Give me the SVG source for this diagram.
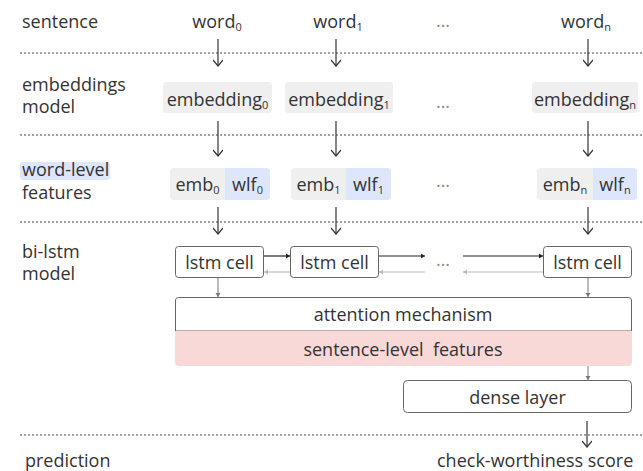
<svg xmlns="http://www.w3.org/2000/svg" width="643" height="471" viewBox="0 0 643 471">
<style>
text{font-family:"Open Sans","Noto Sans","Liberation Sans",sans-serif;font-size:18px;fill:#333;}
.c{text-anchor:middle;}
.dots{fill:#888;}
.sub{font-size:11px;}
.sep{stroke:#444;stroke-width:1.2;stroke-dasharray:2 2;fill:none;}
.gray{fill:#efefef;}
.blue{fill:#dde6fa;}
.box{fill:#fff;stroke:#666;stroke-width:1;}
.arr{stroke:#333;stroke-width:1.2;fill:none;marker-end:url(#ah);}
.fw{stroke:#222;stroke-width:1.2;fill:none;marker-end:url(#as);}
.bk{stroke:#bbb;stroke-width:1.2;fill:none;marker-end:url(#asg);}
.dn{stroke:#777;stroke-width:1;fill:none;marker-end:url(#asd);}
</style>
<defs>
<marker id="ah" viewBox="-7 -5 8 10" refX="0" refY="0" markerWidth="8" markerHeight="10" markerUnits="userSpaceOnUse" orient="auto"><path d="M-6,-5 L0,0 L-6,5" fill="none" stroke="#333" stroke-width="1.2"/></marker>
<marker id="as" viewBox="-5 -3 6 6" refX="0" refY="0" markerWidth="6" markerHeight="6" markerUnits="userSpaceOnUse" orient="auto"><path d="M-4,-2.5 L0,0 L-4,2.5 Z" fill="#222"/></marker>
<marker id="asg" viewBox="-5 -3 6 6" refX="0" refY="0" markerWidth="6" markerHeight="6" markerUnits="userSpaceOnUse" orient="auto"><path d="M-4,-2.5 L0,0 L-4,2.5 Z" fill="#bbb"/></marker>
<marker id="asd" viewBox="-5 -3 6 6" refX="0" refY="0" markerWidth="6" markerHeight="6" markerUnits="userSpaceOnUse" orient="auto"><path d="M-4,-2.5 L0,0 L-4,2.5 Z" fill="#777"/></marker>
</defs>

<g id="separators">
<line class="sep" x1="20" y1="53" x2="643" y2="53"/>
<line class="sep" x1="20" y1="135" x2="643" y2="135"/>
<line class="sep" x1="20" y1="222" x2="643" y2="222"/>
<line class="sep" x1="20" y1="435" x2="643" y2="435"/>
</g>

<g id="row-labels">
<text x="22" y="28">sentence</text>
<text x="22" y="91">embeddings</text>
<text x="22" y="113">model</text>
<rect x="20" y="162" width="90" height="18" rx="3" class="blue"/>
<text x="22" y="176">word-level</text>
<text x="22" y="199">features</text>
<text x="22" y="258">bi-lstm</text>
<text x="22" y="280">model</text>
<text x="25" y="467">prediction</text>
</g>

<g id="words">
<text class="c" x="217" y="28">word<tspan class="sub" dy="3">0</tspan></text>
<text class="c" x="338" y="28">word<tspan class="sub" dy="3">1</tspan></text>
<text class="c dots" x="443" y="27">...</text>
<text class="c" x="586" y="28">word<tspan class="sub" dy="3">n</tspan></text>
</g>

<g id="embedding0"><rect class="gray" x="163" y="82" width="109" height="31" rx="3"/><text class="c" x="217.5" y="106">embedding<tspan class="sub" dy="3">0</tspan></text></g>
<g id="embedding1"><rect class="gray" x="285" y="82" width="108" height="31" rx="3"/><text class="c" x="339" y="106">embedding<tspan class="sub" dy="3">1</tspan></text></g>
<text class="c dots" x="443" y="108">...</text>
<g id="embeddingn"><rect class="gray" x="532" y="82" width="106" height="31" rx="3"/><text class="c" x="585" y="106">embedding<tspan class="sub" dy="3">n</tspan></text></g>

<g id="feat0"><rect class="gray" x="170" y="168" width="100" height="32" rx="4"/><path class="blue" d="M225,168 H266 A4,4 0 0 1 270,172 V196 A4,4 0 0 1 266,200 H225 Z"/><text class="c" x="197.5" y="191">emb<tspan class="sub" dy="3">0</tspan></text><text class="c" x="247.5" y="191">wlf<tspan class="sub" dy="3">0</tspan></text></g>
<g id="feat1"><rect class="gray" x="291" y="168" width="100" height="32" rx="4"/><path class="blue" d="M346,168 H387 A4,4 0 0 1 391,172 V196 A4,4 0 0 1 387,200 H346 Z"/><text class="c" x="318.5" y="191">emb<tspan class="sub" dy="3">1</tspan></text><text class="c" x="368.5" y="191">wlf<tspan class="sub" dy="3">1</tspan></text></g>
<text class="c dots" x="443" y="187">...</text>
<g id="featn"><rect class="gray" x="537" y="168" width="100" height="32" rx="4"/><path class="blue" d="M593,168 H633 A4,4 0 0 1 637,172 V196 A4,4 0 0 1 633,200 H593 Z"/><text class="c" x="565" y="191">emb<tspan class="sub" dy="3">n</tspan></text><text class="c" x="615" y="191">wlf<tspan class="sub" dy="3">n</tspan></text></g>

<g id="lstm0"><rect class="box" x="175.5" y="246.5" width="88" height="31" rx="3"/><text class="c" x="219.5" y="269">lstm cell</text></g>
<g id="lstm1"><rect class="box" x="290.5" y="246.5" width="88" height="31" rx="3"/><text class="c" x="334.5" y="269">lstm cell</text></g>
<text class="c dots" x="443" y="266">...</text>
<g id="lstmn"><rect class="box" x="543.5" y="246.5" width="88" height="31" rx="3"/><text class="c" x="587.5" y="269">lstm cell</text></g>

<g id="attention"><path d="M175.5,331 V300 A3,3 0 0 1 178.5,297.5 H628.5 A3,3 0 0 1 631.5,300 V331 Z" fill="#fff" stroke="#666" stroke-width="1"/><text class="c" x="403" y="321">attention mechanism</text></g>
<g id="sentence-features"><path d="M175,331 H632 V362 A4,4 0 0 1 628,366 H179 A4,4 0 0 1 175,362 Z" fill="#f9d8d8"/><text class="c" x="403" y="356" xml:space="preserve">sentence-level  features</text></g>
<g id="dense"><rect class="box" x="403.5" y="380.5" width="228" height="32" rx="4"/><text class="c" x="517.5" y="404">dense layer</text></g>
<g id="score"><text x="437" y="467">check-worthiness score</text></g>

<g id="connectors">
<line class="arr" x1="218" y1="39" x2="218" y2="66"/>
<line class="arr" x1="336" y1="39" x2="336" y2="66"/>
<line class="arr" x1="588" y1="39" x2="588" y2="66"/>
<line class="arr" x1="218" y1="121" x2="218" y2="156"/>
<line class="arr" x1="336" y1="121" x2="336" y2="156"/>
<line class="arr" x1="588" y1="121" x2="588" y2="156"/>
<line class="arr" x1="218" y1="207" x2="218" y2="234"/>
<line class="arr" x1="336" y1="207" x2="336" y2="234"/>
<line class="arr" x1="588" y1="207" x2="588" y2="234"/>
<line class="fw" x1="264" y1="256" x2="290" y2="256"/>
<line class="fw" x1="379" y1="256" x2="425" y2="256"/>
<line class="fw" x1="463" y1="256" x2="543" y2="256"/>
<line class="bk" x1="290" y1="272" x2="264" y2="272"/>
<line class="bk" x1="425" y1="272" x2="379" y2="272"/>
<line class="bk" x1="543" y1="272" x2="463" y2="272"/>
<line class="dn" x1="218" y1="278" x2="218" y2="297"/>
<line class="dn" x1="588" y1="278" x2="588" y2="297"/>
<line class="dn" x1="588" y1="366" x2="588" y2="380"/>
<line class="arr" x1="587" y1="421" x2="587" y2="447"/>
</g>
</svg>
